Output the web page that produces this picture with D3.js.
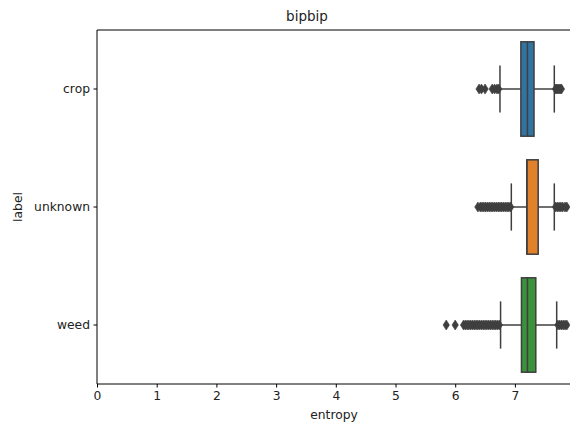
<!DOCTYPE html>
<html>
<head>
<meta charset="utf-8">
<script src="https://cdn.jsdelivr.net/npm/d3@7"></script>
<style>
  body { margin: 0; background: #fff; }
  svg { display: block; font-family: "DejaVu Sans", sans-serif; }
</style>
</head>
<body>
<div id="chart"></div>
<script>
// categories and box statistics
const labels = ['crop', 'unknown', 'weed']
const colors = ['#3274a1', '#e1812c', '#3a923a']
const q1 = [7.10, 7.20, 7.11]
const median = [7.21, 7.20, 7.21]
const q3 = [7.32, 7.39, 7.35]
const whiskerLow = [6.75, 6.94, 6.76]
const whiskerHigh = [7.66, 7.66, 7.70]
const outliersCrop = [6.40, 6.44, 6.50, 6.62, 6.66, 6.70, 6.73, 7.68, 7.70, 7.72, 7.74, 7.76, 7.78]
const outliersUnknown = [6.38, 6.42, 6.45, 6.48, 6.51, 6.54, 6.57, 6.60, 6.63, 6.66, 6.69, 6.72,
  6.75, 6.78, 6.81, 6.84, 6.87, 6.90, 6.93, 7.68, 7.71, 7.74, 7.77, 7.80, 7.84, 7.87]
const outliersWeed = [5.85, 6.00, 6.14, 6.17, 6.20, 6.23, 6.26, 6.29, 6.32, 6.35, 6.38, 6.41, 6.44,
  6.47, 6.50, 6.53, 6.56, 6.59, 6.62, 6.65, 6.68, 6.71, 6.74, 7.72, 7.75, 7.78, 7.81, 7.84, 7.87]
const outliers = [outliersCrop, outliersUnknown, outliersWeed]
const xTicks = [0, 1, 2, 3, 4, 5, 6, 7]

const W = 570, H = 424
const margin = { top: 30, left: 97, bottom: 40 }
const innerH = H - margin.top - margin.bottom
const unit = 59.7

const svg = d3.select('#chart').append('svg')
  .attr('width', W).attr('height', H)

const g = svg.append('g')
  .attr('transform', `translate(${margin.left}, ${margin.top})`)

const x = d3.scaleLinear().domain([0, 8.4]).range([0, 8.4 * unit])
const y = d3.scaleBand().domain(labels).range([0, innerH])

const lineColor = '#3f3f3f'
const boxH = y.bandwidth() * 0.8

labels.forEach((lab, i) => {
  const cy = y(lab) + y.bandwidth() / 2
  const row = g.append('g')

  // whiskers
  row.append('line')
    .attr('x1', x(whiskerLow[i])).attr('x2', x(q1[i]))
    .attr('y1', cy).attr('y2', cy)
    .attr('stroke', lineColor).attr('stroke-width', 1.5)
  row.append('line')
    .attr('x1', x(q3[i])).attr('x2', x(whiskerHigh[i]))
    .attr('y1', cy).attr('y2', cy)
    .attr('stroke', lineColor).attr('stroke-width', 1.5)
  ;[whiskerLow[i], whiskerHigh[i]].forEach(v => {
    row.append('line')
      .attr('x1', x(v)).attr('x2', x(v))
      .attr('y1', cy - boxH / 4).attr('y2', cy + boxH / 4)
      .attr('stroke', lineColor).attr('stroke-width', 1.5)
  })

  // box
  row.append('rect')
    .attr('x', x(q1[i])).attr('width', x(q3[i]) - x(q1[i]))
    .attr('y', cy - boxH / 2).attr('height', boxH)
    .attr('fill', colors[i])
    .attr('stroke', lineColor).attr('stroke-width', 1.5)

  // median
  row.append('line')
    .attr('x1', x(median[i])).attr('x2', x(median[i]))
    .attr('y1', cy - boxH / 2).attr('y2', cy + boxH / 2)
    .attr('stroke', lineColor).attr('stroke-width', 1.5)

  // outliers (thin diamonds)
  row.selectAll('.flier')
    .data(outliers[i])
    .enter()
    .append('path')
    .attr('class', 'flier')
    .attr('d', d => {
      const px = x(d)
      return `M${px},${cy - 5}L${px + 3.2},${cy}L${px},${cy + 5}L${px - 3.2},${cy}Z`
    })
    .attr('fill', lineColor)
    .attr('stroke', lineColor).attr('stroke-width', 0.6)
})

// spines
g.append('line').attr('x1', 0).attr('x2', W).attr('y1', 0).attr('y2', 0)
  .attr('stroke', '#000').attr('stroke-width', 1)
g.append('line').attr('x1', 0).attr('x2', 0).attr('y1', 0).attr('y2', innerH)
  .attr('stroke', '#000').attr('stroke-width', 1)

// axes
const xAxis = d3.axisBottom(x)
  .tickValues(xTicks)
  .tickSizeInner(3.5)
  .tickSizeOuter(0)
  .tickPadding(3.5)
  .tickFormat(d3.format('d'))
const ax = g.append('g')
  .attr('transform', `translate(0, ${innerH})`)
  .call(xAxis)
ax.select('.domain').attr('d', `M0,0H${W}`).attr('stroke', '#000')

const yAxis = d3.axisLeft(y)
  .tickSizeInner(3.5)
  .tickSizeOuter(0)
  .tickPadding(3.5)
const ay = g.append('g').call(yAxis)
ay.select('.domain').remove()

g.selectAll('.tick text')
  .attr('font-size', '12.3px')
  .attr('fill', '#222')
  .style('font-family', '"DejaVu Sans", sans-serif')

// labels
svg.append('text')
  .attr('x', 307).attr('y', 21)
  .attr('text-anchor', 'middle')
  .attr('font-size', '13.5px').attr('fill', '#222')
  .text('bipbip')

svg.append('text')
  .attr('x', 334).attr('y', 419)
  .attr('text-anchor', 'middle')
  .attr('font-size', '12.3px').attr('fill', '#222')
  .text('entropy')

svg.append('text')
  .attr('transform', `translate(22, 207) rotate(-90)`)
  .attr('text-anchor', 'middle')
  .attr('font-size', '12.3px').attr('fill', '#222')
  .text('label')
</script>
</body>
</html>
